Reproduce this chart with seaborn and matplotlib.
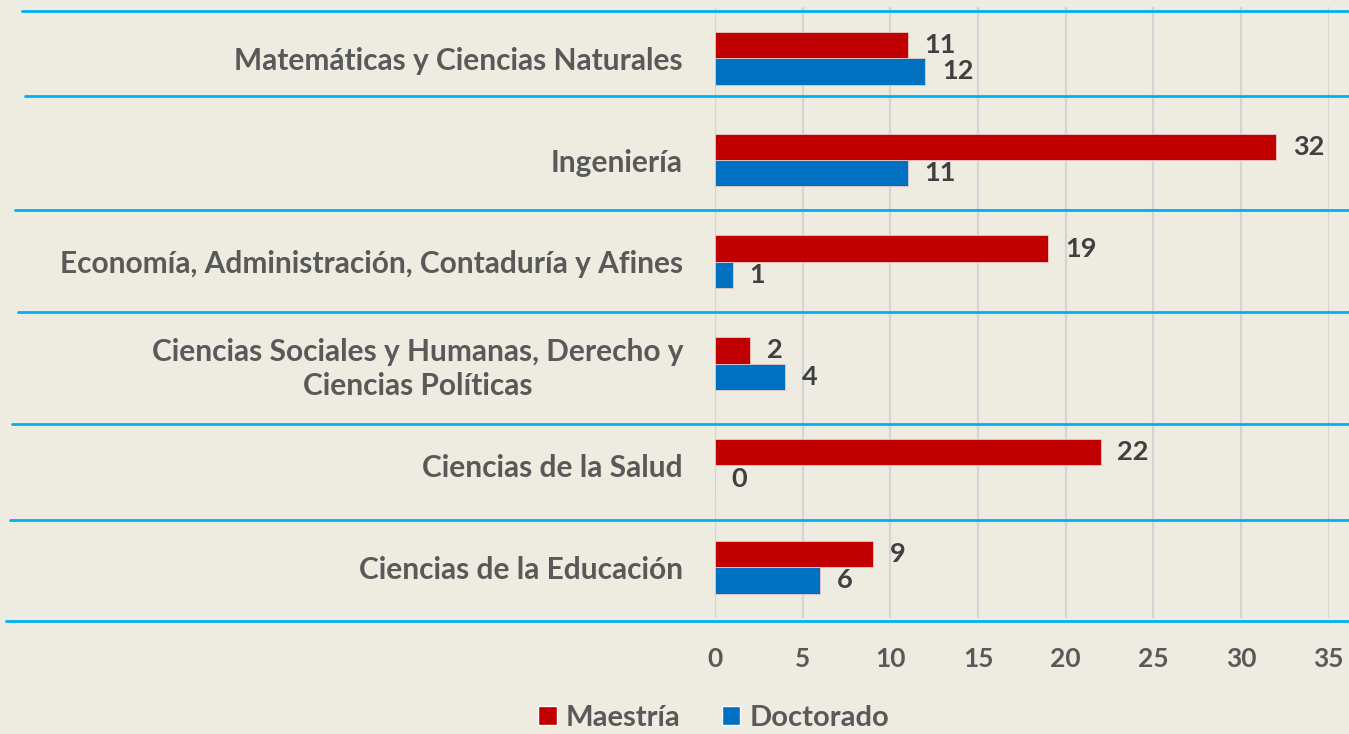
import matplotlib
matplotlib.use("Agg")
import matplotlib.pyplot as plt
from matplotlib.lines import Line2D
from matplotlib.patches import Patch
import pandas as pd
import seaborn as sns

categories = [
    "Matemáticas y Ciencias Naturales",
    "Ingeniería",
    "Economía, Administración, Contaduría y Afines",
    "Ciencias Sociales y Humanas, Derecho y\nCiencias Políticas",
    "Ciencias de la Salud",
    "Ciencias de la Educación",
]
maestria = [11, 32, 19, 2, 22, 9]
doctorado = [12, 11, 1, 4, 0, 6]
series = ["Maestría", "Doctorado"]
x_ticks = [0, 5, 10, 15, 20, 25, 30, 35]

bg = "#EEECE1"
red = "#C00000"
blue = "#0070C0"
label_gray = "#595959"

df = pd.DataFrame({
    "categoria": categories * 2,
    "valor": maestria + doctorado,
    "nivel": [series[0]] * len(categories) + [series[1]] * len(categories),
})

sns.set_theme(style="white")
plt.rcParams["font.family"] = ["Lato", "DejaVu Sans"]

fig = plt.figure(figsize=(13.49, 7.34), dpi=100, facecolor=bg)
ax = fig.add_axes([0.530, 0.158, 0.455, 0.832])
ax.set_facecolor(bg)

sns.barplot(data=df, y="categoria", x="valor", hue="nivel", order=categories,
            hue_order=series, palette=[red, blue], saturation=1, orient="h",
            width=0.52, edgecolor="#E8C8C8", linewidth=0.6, ax=ax, legend=False)

for cont in ax.containers:
    ax.bar_label(cont, padding=12, fontsize=19.5, fontweight="bold", color="#404040")

ax.set_xlim(0, 35)
ax.set_xticks(x_ticks)
ax.xaxis.grid(True, color="#D4D4D4", linewidth=1.6)
ax.set_axisbelow(True)
for s in ax.spines.values():
    s.set_visible(False)
ax.tick_params(axis="both", length=0)
ax.tick_params(axis="x", pad=21, labelsize=19, labelcolor=label_gray)
ax.tick_params(axis="y", pad=23, labelsize=21.5, labelcolor=label_gray)
for t in ax.get_xticklabels() + ax.get_yticklabels():
    t.set_fontweight("bold")
for t in ax.get_yticklabels():
    t.set_horizontalalignment("right")
    t.set_multialignment("center")
    t.set_linespacing(1.25)
ax.set_xlabel("")
ax.set_ylabel("")

# decorative cyan separators (figure coordinates)
sep = [(22, 11), (25, 96), (15, 210), (18, 312), (12, 424), (10, 520), (6, 621)]
W, H = 1349, 734
for x0, y0 in sep:
    fig.add_artist(Line2D([x0 / W, 1.0], [1 - y0 / H, 1 - y0 / H],
                          color="#00B0F0", linewidth=2.0))

handles = [Patch(facecolor=red), Patch(facecolor=blue)]
leg = fig.legend(handles, series, loc="center", bbox_to_anchor=(0.529, 0.022),
                 ncol=2, frameon=False, handlelength=0.65, handleheight=0.65,
                 handletextpad=0.3, columnspacing=1.4,
                 prop={"size": 21, "weight": "bold"})
for t in leg.get_texts():
    t.set_color(label_gray)

fig.savefig("out.png", dpi=100, facecolor=bg)
